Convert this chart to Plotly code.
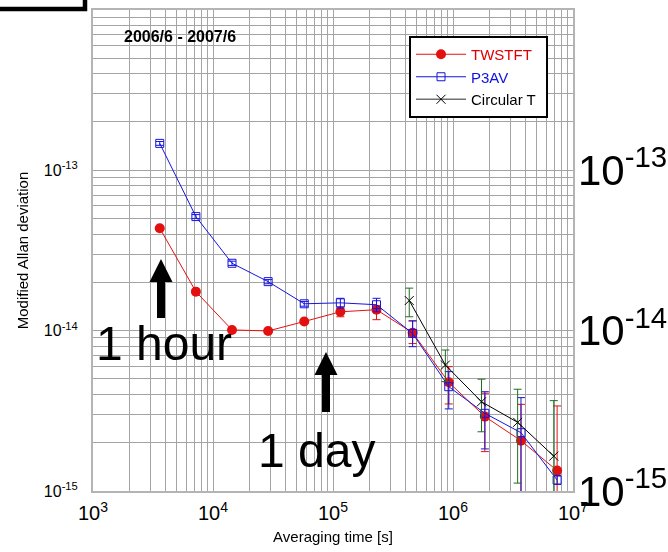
import plotly.graph_objects as go

# ---------------- data ----------------
tau_tw = [3600, 7200, 14400, 28800, 57600, 115200, 230400, 460800, 921600, 1843200, 3686400, 7372800]
twstft = [4.35e-14, 1.75e-14, 1.01e-14, 9.95e-15, 1.14e-14, 1.31e-14, 1.35e-14, 9.7e-15, 4.76e-15, 2.91e-15, 2.06e-15, 1.34e-15]
twstft_hi = [4.45e-14, 1.79e-14, 1.03e-14, 1.02e-14, 1.17e-14, 1.40e-14, 1.43e-14, 1.15e-14, 5.96e-15, 4.07e-15, 3.47e-15, 3.39e-15]
twstft_lo = [4.25e-14, 1.71e-14, 0.99e-14, 0.97e-14, 1.11e-14, 1.22e-14, 1.17e-14, 8.3e-15, 3.49e-15, 1.76e-15, 0.9e-15, 0.9e-15]

tau_p3 = [3600, 7200, 14400, 28800, 57600, 115200, 230400, 460800, 921600, 1843200, 3686400, 7372800]
p3av = [1.47e-13, 5.14e-14, 2.63e-14, 2.02e-14, 1.47e-14, 1.49e-14, 1.45e-14, 9.6e-15, 4.47e-15, 3.05e-15, 2.31e-15, 1.17e-15]
p3av_hi = [1.51e-13, 5.29e-14, 2.71e-14, 2.08e-14, 1.52e-14, 1.59e-14, 1.59e-14, 1.15e-14, 5.55e-15, 4.16e-15, 3.82e-15, 1.25e-15]
p3av_lo = [1.43e-13, 4.99e-14, 2.55e-14, 1.96e-14, 1.42e-14, 1.38e-14, 1.31e-14, 7.94e-15, 3.25e-15, 1.83e-15, 0.9e-15, 1.10e-15]

tau_ct = [432000, 864000, 1728000, 3456000, 6912000]
circt = [1.54e-14, 6.1e-15, 3.6e-15, 2.68e-15, 1.65e-15]
circt_hi = [1.84e-14, 7.57e-15, 4.98e-15, 4.31e-15, 3.66e-15]
circt_lo = [1.22e-14, 4.81e-15, 2.34e-15, 1.12e-15, 0.9e-15]

y_tick_vals = [1e-15, 1e-14, 1e-13]
y_tick_text = ["10<sup>-15</sup>", "10<sup>-14</sup>", "10<sup>-13</sup>"]

FONT = "Arial, Liberation Sans, sans-serif"

# plot area geometry in pixels (for paper-coordinate decorations)
W, H = 668, 552
L, R, T, B = 93, 95, 10, 61
PW, PH = W - L - R, H - T - B


def px(x):
    return (x - L) / PW


def py(y):
    return (H - B - y) / PH


def err(vals, hi, lo):
    plus = [h - v for h, v in zip(hi, vals)]
    minus = [v - l for v, l in zip(vals, lo)]
    return plus, minus


fig = go.Figure()

p, m = err(twstft, twstft_hi, twstft_lo)
fig.add_trace(go.Scatter(
    x=tau_tw, y=twstft, mode="lines+markers",
    name="<span style='color:#e00000'>TWSTFT</span>&nbsp;&nbsp;",
    line=dict(color="#e41010", width=1),
    marker=dict(symbol="circle", size=10, color="#e41010"),
    error_y=dict(type="data", array=p, arrayminus=m, color="#e41010", thickness=1, width=4),
))

p, m = err(p3av, p3av_hi, p3av_lo)
fig.add_trace(go.Scatter(
    x=tau_p3, y=p3av, mode="lines+markers",
    name="<span style='color:#1010e0'>P3AV</span>",
    line=dict(color="#1515e0", width=1),
    marker=dict(symbol="square-open", size=8, color="#1515e0", line=dict(width=1, color="#1515e0")),
    error_y=dict(type="data", array=p, arrayminus=m, color="#1515e0", thickness=1, width=4),
))

p, m = err(circt, circt_hi, circt_lo)
fig.add_trace(go.Scatter(
    x=tau_ct, y=circt, mode="lines+markers",
    name="Circular T", showlegend=False, legendgroup="ct",
    line=dict(color="#000000", width=1),
    marker=dict(symbol="x-thin-open", size=9, color="#000000", line=dict(width=1, color="#000000")),
    error_y=dict(type="data", array=p, arrayminus=m, color="#1f6e1f", thickness=1, width=4),
))
# legend entry for Circular T (grey line, black cross, as in the original key)
fig.add_trace(go.Scatter(
    x=[None], y=[None], mode="lines+markers", name="Circular T", legendgroup="ct",
    line=dict(color="#707070", width=1.5),
    marker=dict(symbol="x-thin-open", size=9, color="#000000", line=dict(width=1, color="#000000")),
))

# invisible trace for the right-hand big axis labels
fig.add_trace(go.Scatter(
    x=tau_tw, y=twstft, yaxis="y2", mode="markers", opacity=0,
    showlegend=False, hoverinfo="skip",
))

grid_col = "#a4a4a4"
fig.update_layout(
    width=W, height=H,
    margin=dict(l=L, r=R, t=T, b=B, autoexpand=False),
    paper_bgcolor="white", plot_bgcolor="white",
    font=dict(family=FONT, color="black", size=16),
    showlegend=True,
    legend=dict(
        x=px(409), y=py(36), xanchor="left", yanchor="top",
        bgcolor="white", bordercolor="black", borderwidth=2,
        font=dict(family=FONT, size=15, color="black"),
        itemwidth=50, tracegroupgap=0,
    ),
    xaxis=dict(
        type="log", range=[3, 7], dtick=1, exponentformat="power", automargin=False,
        showgrid=True, gridcolor=grid_col, gridwidth=1,
        minor=dict(dtick="D1", showgrid=True, gridcolor=grid_col, gridwidth=1, ticks=""),
        showline=True, linecolor="#b4b4b4", linewidth=2, mirror=True,
        ticks="", tickfont=dict(size=16, family=FONT), ticklabelstandoff=4,
        title=dict(text="Averaging time [s]", font=dict(size=15, family=FONT), standoff=8),
        zeroline=False,
    ),
    yaxis=dict(
        type="log", range=[-15, -12.001], tickmode="array", automargin=False,
        tickvals=y_tick_vals, ticktext=y_tick_text,
        showgrid=True, gridcolor=grid_col, gridwidth=1,
        minor=dict(dtick="D1", showgrid=True, gridcolor=grid_col, gridwidth=1, ticks=""),
        showline=True, linecolor="#b4b4b4", linewidth=2, mirror=True,
        ticks="", tickfont=dict(size=16, family=FONT), ticklabelstandoff=10,
        title=dict(text="Modified Allan deviation", font=dict(size=15, family=FONT), standoff=12),
        zeroline=False,
    ),
    yaxis2=dict(
        type="log", range=[-15, -12.001], overlaying="y", side="right", automargin=False,
        tickmode="array", tickvals=y_tick_vals, ticktext=y_tick_text,
        showgrid=False, showline=False, ticks="", zeroline=False,
        tickfont=dict(size=42, family=FONT, color="black"), ticklabelstandoff=4,
    ),
)

# text annotations
fig.add_annotation(x=px(180), y=py(37), xref="paper", yref="paper",
                   xanchor="center", yanchor="middle",
                   text="<b>2006/6 - 2007/6</b>", showarrow=False,
                   font=dict(size=16, family=FONT, color="black"))
fig.add_annotation(x=px(164), y=py(343), xref="paper", yref="paper",
                   xanchor="center", yanchor="middle",
                   text="1 hour", showarrow=False,
                   font=dict(size=48, family=FONT, color="black"))
fig.add_annotation(x=px(316), y=py(450), xref="paper", yref="paper",
                   xanchor="center", yanchor="middle",
                   text="1 day", showarrow=False,
                   font=dict(size=48, family=FONT, color="black"))


# thick arrows (shapes)
def arrow_path(cx, tip, head_base, bottom, hw=11.5, sw=4):
    pts = [(cx, tip), (cx + hw, head_base), (cx + sw, head_base), (cx + sw, bottom),
           (cx - sw, bottom), (cx - sw, head_base), (cx - hw, head_base)]
    return "M " + " L ".join(f"{px(a):.5f},{py(b):.5f}" for a, b in pts) + " Z"


for cx, tip, hb, bot in [(161, 259, 282, 318), (326, 352, 375, 412)]:
    fig.add_shape(type="path", path=arrow_path(cx, tip, hb, bot), xref="paper", yref="paper",
                  fillcolor="black", line=dict(width=0), layer="above")

# black frame fragment at the top-left corner
fig.add_shape(type="path",
              path=f"M {px(-5):.5f},{py(9):.5f} L {px(85):.5f},{py(9):.5f} L {px(85):.5f},{py(-5):.5f}",
              xref="paper", yref="paper", line=dict(color="black", width=4.5), layer="above")

fig.write_html("out.html")
